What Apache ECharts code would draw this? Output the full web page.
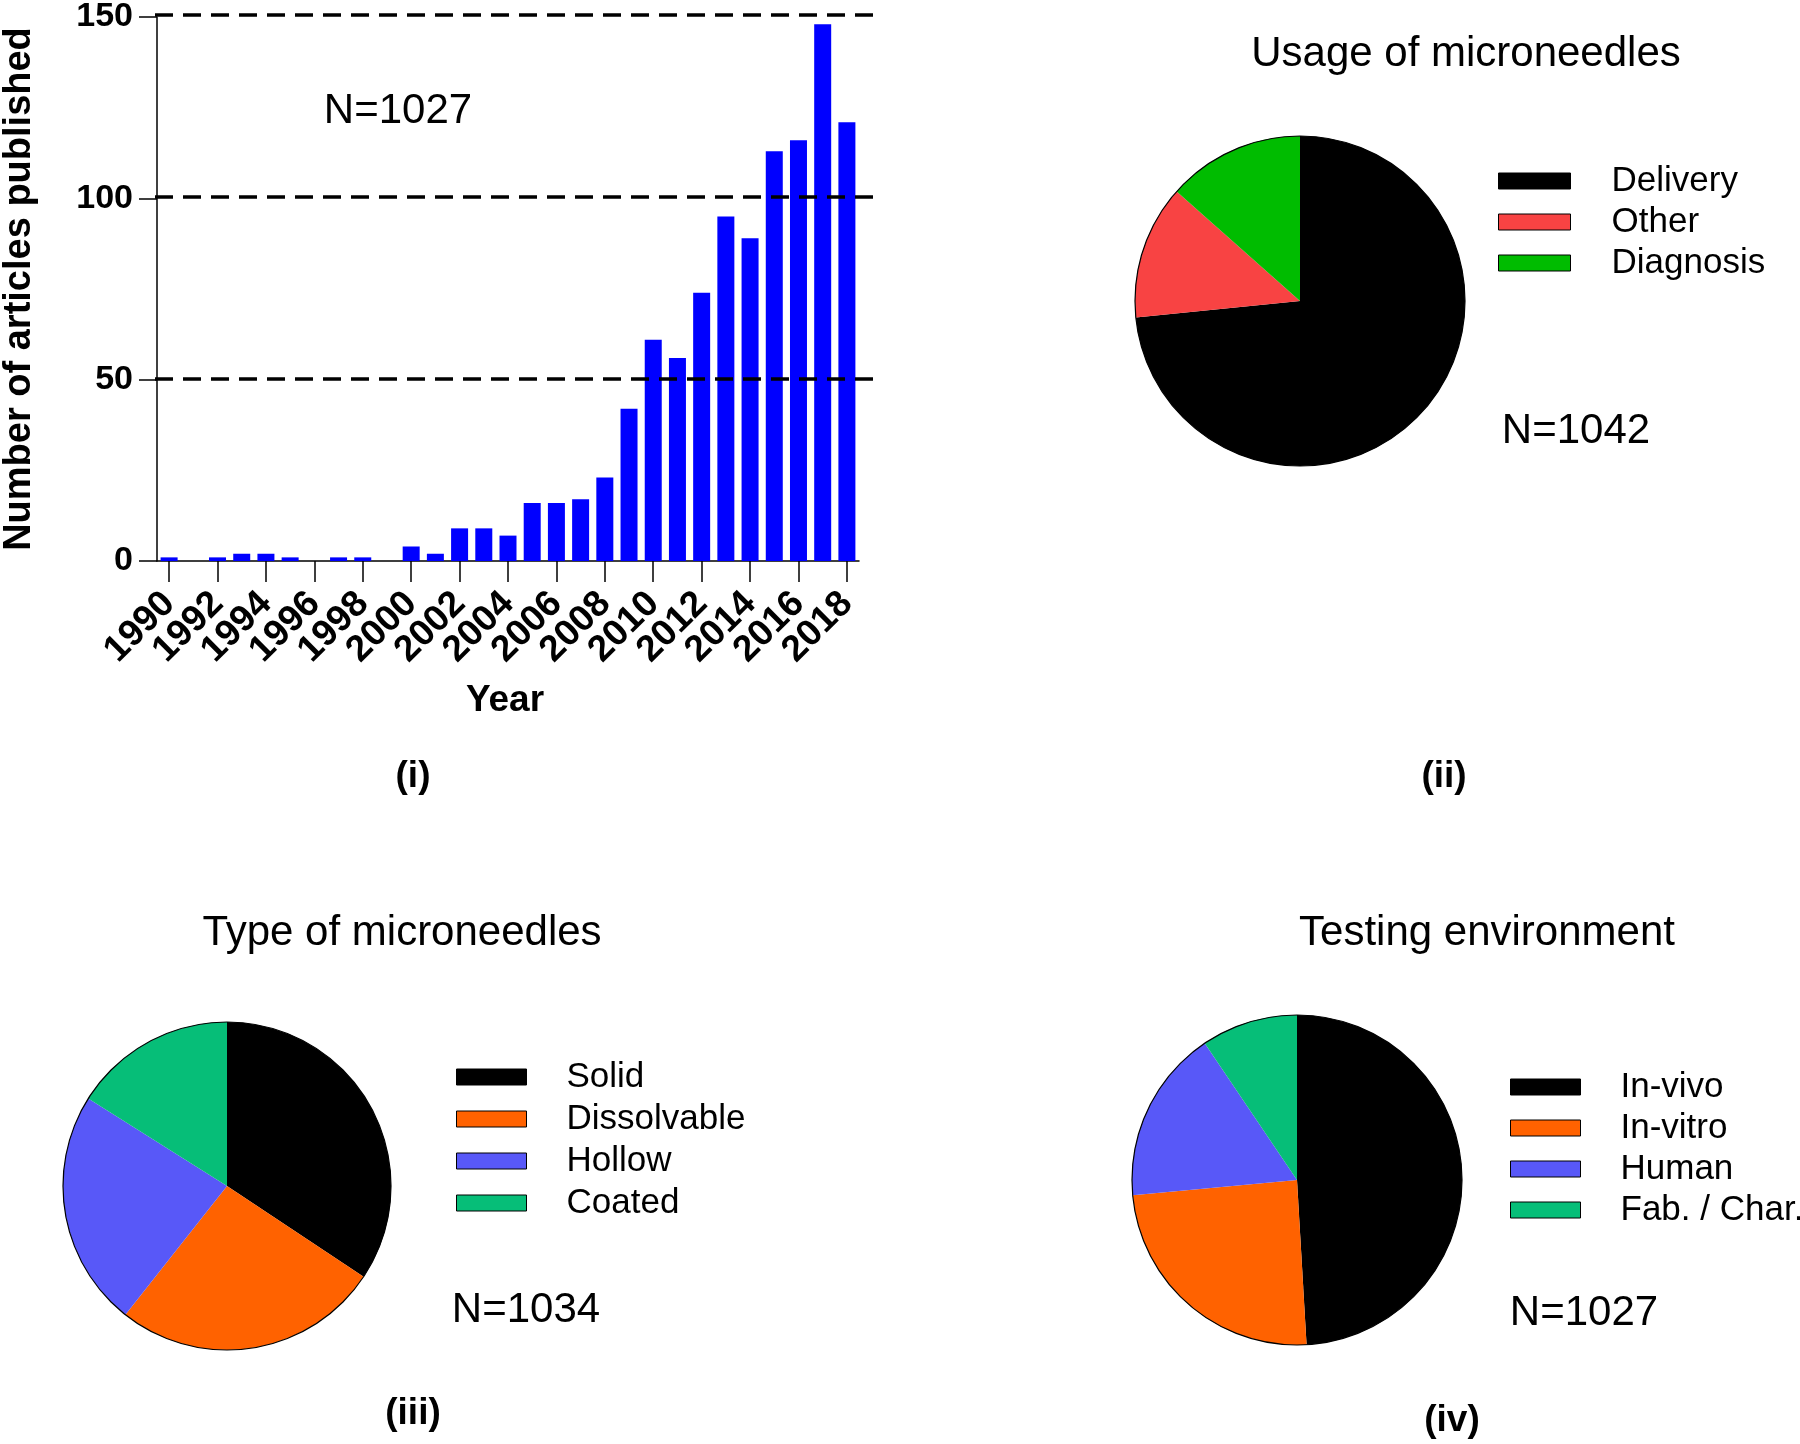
<!DOCTYPE html>
<html>
<head>
<meta charset="utf-8">
<script src="https://cdn.jsdelivr.net/npm/echarts@6/dist/echarts.min.js"></script>
<style>
html,body{margin:0;padding:0;background:#fff;}
#chart{width:1800px;height:1444px;}
</style>
</head>
<body>
<div id="chart"></div>
<script>
// ---- data ----
const years = ['1990','1991','1992','1993','1994','1995','1996','1997','1998','1999','2000','2001','2002','2003','2004','2005','2006','2007','2008','2009','2010','2011','2012','2013','2014','2015','2016','2017','2018'];
const articles = [1,0,1,2,2,1,0,1,1,0,4,2,9,9,7,16,16,17,23,42,61,56,74,95,89,113,116,148,121];
const yTicks = [0,50,100,150];

const usageNames = ['Delivery','Other','Diagnosis'];
const usageValues = [765,137,140];
const typeNames = ['Solid','Dissolvable','Hollow','Coated'];
const typeValues = [355,272,241,166];
const envNames = ['In-vivo','In-vitro','Human','Fab. / Char.'];
const envValues = [504,251,175,97];

const barTexts = {n:'N=1027', xName:'Year', yName:'Number of articles published', panel:'(i)'};
const usageTexts = {title:'Usage of microneedles', n:'N=1042', panel:'(ii)'};
const typeTexts = {title:'Type of microneedles', n:'N=1034', panel:'(iii)'};
const envTexts = {title:'Testing environment', n:'N=1027', panel:'(iv)'};

// ---- styles ----
const FONT = '"Liberation Sans", Arial, Helvetica, sans-serif';
const usageColors = ['#000000','#F84343','#00BC00'];
const typeColors = ['#000000','#FF6200','#5858F8','#06BE78'];
const envColors = ['#000000','#FF6200','#5858F8','#06BE78'];

function pieData(names, values, colors){
  return names.map((n,i)=>({name:n, value:values[i], itemStyle:{color:colors[i]}}));
}
function pieSeries(names, values, colors, center, r){
  return {
    type:'pie', center:center, radius:r, startAngle:90, clockwise:true,
    label:{show:false}, labelLine:{show:false}, silent:true,
    itemStyle:{borderWidth:0},
    emphasis:{disabled:true},
    data:pieData(names, values, colors)
  };
}
// outline ring drawn around a pie (single full slice, no fill)
function pieOutline(center, r){
  return {
    type:'pie', center:center, radius:r, silent:true, z:3,
    label:{show:false}, labelLine:{show:false}, emphasis:{disabled:true},
    itemStyle:{color:'rgba(0,0,0,0)', borderColor:'#000', borderWidth:1.2},
    data:[{value:1, name:'_outline'}]
  };
}
function legend(names, left, top, w, h, gap, pad){
  return {
    orient:'vertical', left:left, top:top, padding:0, itemGap:gap,
    itemWidth:w, itemHeight:h, icon:'rect', selectedMode:false,
    textStyle:{fontFamily:FONT, fontSize:35, lineHeight:36, color:'#000', padding:[0,0,0,pad]},
    itemStyle:{borderColor:'#000', borderWidth:1},
    data:names
  };
}
function txt(text, x, y, size, bold){
  return {type:'text', x:x, y:y, silent:true,
    style:{text:text, fill:'#000', font:(bold?'bold ':'')+size+'px '+FONT,
      align:'center', verticalAlign:'middle', textAlign:'center', textVerticalAlign:'middle'}};
}

const chart = echarts.init(document.getElementById('chart'), null, {renderer:'canvas'});
const option = {
  animation:false,
  backgroundColor:'#fff',
  textStyle:{fontFamily:FONT},
  grid:[
    {left:155, top:15, width:704, bottom:883, containLabel:false},
    {left:155, top:15, width:727, bottom:883, containLabel:false}
  ],
  xAxis:[
    {type:'category', gridIndex:0, data:years, boundaryGap:true,
     axisLine:{show:true, lineStyle:{color:'#000', width:1.5}},
     axisTick:{show:true, interval:1, alignWithLabel:true, length:21, lineStyle:{color:'#000', width:1.5}},
     axisLabel:{show:true, interval:0, rotate:45, margin:37, color:'#000', fontSize:37, fontWeight:'bold', fontFamily:FONT,
       hideOverlap:false,
       formatter:function(v, i){ return i % 2 === 0 ? v : ''; }}},
    {type:'value', gridIndex:1, min:0, max:1, show:false}
  ],
  yAxis:[
    {type:'value', gridIndex:0, min:yTicks[0], max:yTicks[yTicks.length-1], interval:yTicks[1]-yTicks[0],
     axisLine:{show:true, lineStyle:{color:'#000', width:1.5}},
     axisTick:{show:true, length:18, lineStyle:{color:'#000', width:1.5}},
     axisLabel:{color:'#000', fontSize:34, fontWeight:'bold', margin:24, fontFamily:FONT},
     splitLine:{show:false},
     name:barTexts.yName, nameLocation:'middle', nameGap:118, nameRotate:90,
     nameTextStyle:{color:'#000', fontSize:38, fontWeight:'bold', fontFamily:FONT}},
    {type:'value', gridIndex:1, min:yTicks[0], max:yTicks[yTicks.length-1], interval:yTicks[1]-yTicks[0], z:10,
     axisLine:{show:false}, axisTick:{show:false}, axisLabel:{show:false},
     splitLine:{show:true, showMinLine:false, lineStyle:{color:'#000', width:3.5, type:[18,10]}}}
  ],
  legend:[
    legend(usageNames, 1498, 163, 72, 16, 5, 36),
    legend(typeNames, 456, 1059, 70, 16, 6, 35),
    legend(envNames, 1510, 1069, 70, 16, 5, 35)
  ],
  series:[
    {type:'bar', xAxisIndex:0, yAxisIndex:0, data:articles, barWidth:17, silent:true,
     itemStyle:{color:'#0000FF'}},
    pieSeries(usageNames, usageValues, usageColors, [1300,301], 165),
    pieOutline([1300,301], 165),
    pieSeries(typeNames, typeValues, typeColors, [227,1186], 164),
    pieOutline([227,1186], 164),
    pieSeries(envNames, envValues, envColors, [1297,1180], 165),
    pieOutline([1297,1180], 165)
  ],
  graphic:[
    txt(barTexts.n, 398, 111, 42, false),
    txt(barTexts.xName, 505, 701, 37, true),
    txt(barTexts.panel, 413, 777, 37, true),
    txt(usageTexts.title, 1466, 54, 42, false),
    txt(usageTexts.n, 1576, 431, 42, false),
    txt(usageTexts.panel, 1444, 777, 37, true),
    txt(typeTexts.title, 402, 933, 42, false),
    txt(typeTexts.n, 526, 1310, 42, false),
    txt(typeTexts.panel, 413, 1414, 37, true),
    txt(envTexts.title, 1487, 933, 42, false),
    txt(envTexts.n, 1584, 1313, 42, false),
    txt(envTexts.panel, 1452, 1421, 37, true)
  ]
};
chart.setOption(option);
</script>
</body>
</html>
